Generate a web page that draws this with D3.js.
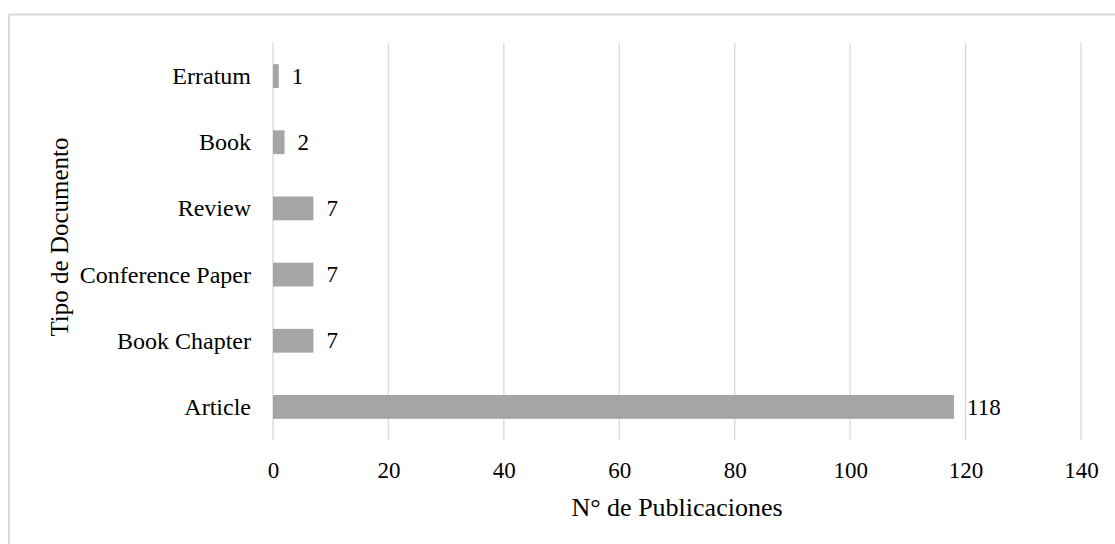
<!DOCTYPE html>
<meta charset="utf-8">
<style>
    body {
        margin: 0;
        background-color: #fff;
    }

    text {
        font-family: "Liberation Serif", "Times New Roman", serif;
        fill: #000;
    }

    .grid line {
        stroke: #d9d9d9;
        stroke-width: 1.3px;
    }

    .bar {
        fill: #a5a5a5;
    }
</style>

<body>
    <svg width="1115" height="544"></svg>
</body>
<script src="https://d3js.org/d3.v7.min.js"></script>
<script>
    // data
    var categories = ["Erratum", "Book", "Review", "Conference Paper", "Book Chapter", "Article"];
    var values = [1, 2, 7, 7, 7, 118];
    var xTicks = [0, 20, 40, 60, 80, 100, 120, 140];

    var data = categories.map(function(c, i) {
        return { cat: c, value: values[i] };
    });

    var svg = d3.select("svg"),
        margin = { top: 43, right: 34, bottom: 104, left: 273 },
        width = +svg.attr("width") - margin.left - margin.right,
        height = +svg.attr("height") - margin.top - margin.bottom;

    // chart frame (only top and left edges show in the crop)
    svg.append("line")
        .attr("x1", 9).attr("x2", 1115)
        .attr("y1", 14.5).attr("y2", 14.5)
        .attr("stroke", "#d9d9d9").attr("stroke-width", 2);
    svg.append("line")
        .attr("x1", 9).attr("x2", 9)
        .attr("y1", 14).attr("y2", 544)
        .attr("stroke", "#d9d9d9").attr("stroke-width", 2);

    var x = d3.scaleLinear().domain([0, 140]).range([0, width]);
    var y = d3.scaleBand().domain(categories).range([0, height]).paddingInner(0.64).paddingOuter(0.32);

    var g = svg.append("g")
        .attr("transform", "translate(" + margin.left + "," + margin.top + ")");

    // vertical gridlines
    g.append("g")
        .attr("class", "grid")
        .selectAll("line")
        .data(xTicks)
        .enter().append("line")
        .attr("x1", function(d) { return x(d); })
        .attr("x2", function(d) { return x(d); })
        .attr("y1", 0)
        .attr("y2", height);

    // x axis labels
    var xAxis = g.append("g")
        .attr("transform", "translate(0," + height + ")")
        .call(d3.axisBottom(x).tickValues(xTicks).tickSize(0).tickPadding(0));
    xAxis.select(".domain").remove();
    xAxis.selectAll("text")
        .attr("y", 38)
        .attr("dy", 0)
        .style("font-size", "23px")
        .style("font-family", "Liberation Serif");

    // y axis labels
    var yAxis = g.append("g")
        .call(d3.axisLeft(y).tickSize(0).tickPadding(22));
    yAxis.select(".domain").remove();
    yAxis.selectAll("text")
        .attr("dy", "0.33em")
        .style("font-size", "24px")
        .style("font-family", "Liberation Serif");

    // bars
    g.selectAll(".bar")
        .data(data)
        .enter().append("rect")
        .attr("class", "bar")
        .attr("x", 0)
        .attr("y", function(d) { return y(d.cat); })
        .attr("width", function(d) { return x(d.value); })
        .attr("height", y.bandwidth());

    // value labels
    g.selectAll(".val")
        .data(data)
        .enter().append("text")
        .attr("class", "val")
        .attr("x", function(d) { return x(d.value) + 13; })
        .attr("y", function(d) { return y(d.cat) + y.bandwidth() / 2; })
        .attr("dy", "0.33em")
        .style("font-size", "23px")
        .text(function(d) { return d.value; });

    // axis titles
    svg.append("text")
        .attr("x", margin.left + width / 2)
        .attr("y", 516)
        .attr("text-anchor", "middle")
        .style("font-size", "26px")
        .text("N° de Publicaciones");

    svg.append("text")
        .attr("transform", "translate(68,237) rotate(-90)")
        .attr("text-anchor", "middle")
        .style("font-size", "25px")
        .text("Tipo de Documento");
</script>
